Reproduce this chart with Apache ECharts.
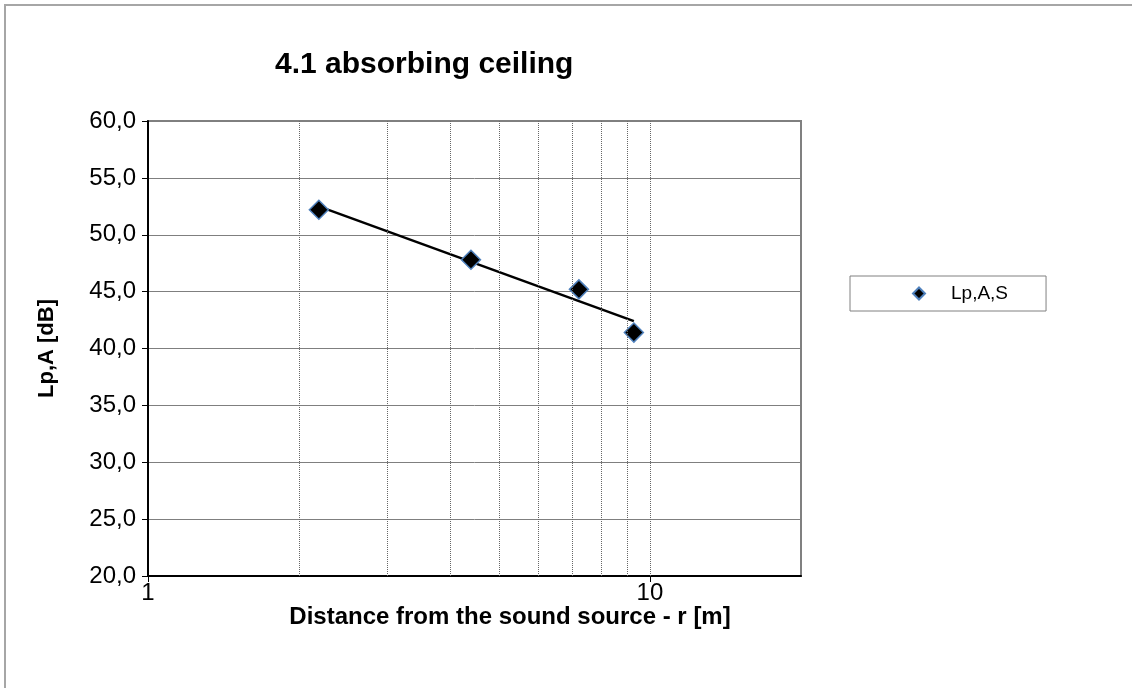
<!DOCTYPE html>
<html>
<head>
<meta charset="utf-8">
<script src="https://cdn.jsdelivr.net/npm/echarts@6/dist/echarts.min.js"></script>
<style>
html,body{margin:0;padding:0;background:#fff;}
#chart{width:1132px;height:688px;}
</style>
</head>
<body>
<div id="chart"></div>
<script>
// Data
const seriesName = 'Lp,A,S';
const distances = [2.19, 4.40, 7.22, 9.29];
const levels = [52.2, 47.8, 45.2, 41.4];
const trendX = [2.19, 9.29];
const trendY = [52.5, 42.4];
const xTickLabels = [1, 10];
const xMinorGrid = [2, 3, 4, 5, 6, 7, 8, 9, 10];
const yMin = 20, yMax = 60, yStep = 5;
const xMin = 1, xMax = 20;

const FONT = '"Liberation Sans", Arial, sans-serif';
const chart = echarts.init(document.getElementById('chart'));

const option = {
  animation: false,
  backgroundColor: '#fff',
  graphic: [{
    type: 'rect', silent: true, z: -10,
    shape: {x: 5, y: 5, width: 1300, height: 900},
    style: {fill: 'none', stroke: '#a6a6a6', lineWidth: 2}
  }],
  title: {
    text: '4.1 absorbing ceiling',
    left: 275, top: 50,
    padding: 0,
    textStyle: {fontFamily: FONT, fontSize: 30, fontWeight: 'bold', color: '#000'}
  },
  legend: {
    data: [seriesName],
    left: 850, top: 276,
    padding: [8, 38, 8, 62],
    borderColor: '#808080', borderWidth: 1,
    itemWidth: 12, itemHeight: 12,
    icon: 'diamond',
    textStyle: {fontFamily: FONT, fontSize: 19, color: '#000', padding: [0, 0, 0, 21]}
  },
  grid: {
    left: 148, right: 331, top: 121, bottom: 112,
    show: true, borderColor: '#808080', borderWidth: 2,
    containLabel: false
  },
  xAxis: {
    type: 'log', logBase: 10, min: xMin, max: xMax,
    name: 'Distance from the sound source - r [m]',
    nameLocation: 'middle', nameGap: 29,
    nameMoveOverlap: false,
    nameTextStyle: {fontFamily: FONT, fontSize: 24, fontWeight: 'bold', color: '#000', padding: [0, 0, 0, 71]},
    axisLine: {show: true, onZero: false, lineStyle: {color: '#000', width: 2}},
    axisTick: {show: true, length: 6, customValues: xTickLabels, lineStyle: {color: '#000'}},
    axisLabel: {
      fontFamily: FONT, fontSize: 24, color: '#000', margin: 5,
      customValues: xTickLabels,
      formatter: v => String(v)
    },
    splitLine: {show: false},
    minorTick: {show: false}
  },
  yAxis: {
    type: 'value', min: yMin, max: yMax, interval: yStep,
    name: 'Lp,A [dB]',
    nameLocation: 'middle', nameGap: 90,
    nameMoveOverlap: false,
    nameTextStyle: {fontFamily: FONT, fontSize: 22, fontWeight: 'bold', color: '#000'},
    axisLine: {show: true, lineStyle: {color: '#000', width: 2}},
    axisTick: {show: true, length: 6, lineStyle: {color: '#000'}},
    axisLabel: {
      fontFamily: FONT, fontSize: 24, color: '#000', margin: 12,
      formatter: v => v.toFixed(1).replace('.', ',')
    },
    splitLine: {show: true, lineStyle: {color: '#7f7f7f', width: 1}}
  },
  series: [
    {
      name: 'trend', type: 'line',
      data: trendX.map((x, i) => [x, trendY[i]]),
      symbol: 'none', z: 3,
      lineStyle: {color: '#000', width: 2.5},
      markLine: {
        silent: true, symbol: ['none', 'none'],
        label: {show: false},
        lineStyle: {color: '#666', type: 'dotted', width: 1},
        data: xMinorGrid.map(v => ({xAxis: v}))
      }
    },
    {
      name: seriesName, type: 'scatter',
      data: distances.map((x, i) => [x, levels[i]]),
      symbol: 'diamond', symbolSize: 19, z: 4,
      itemStyle: {color: '#000', borderColor: '#4f81bd', borderWidth: 1.5, opacity: 1}
    }
  ]
};
chart.setOption(option);
</script>
</body>
</html>
